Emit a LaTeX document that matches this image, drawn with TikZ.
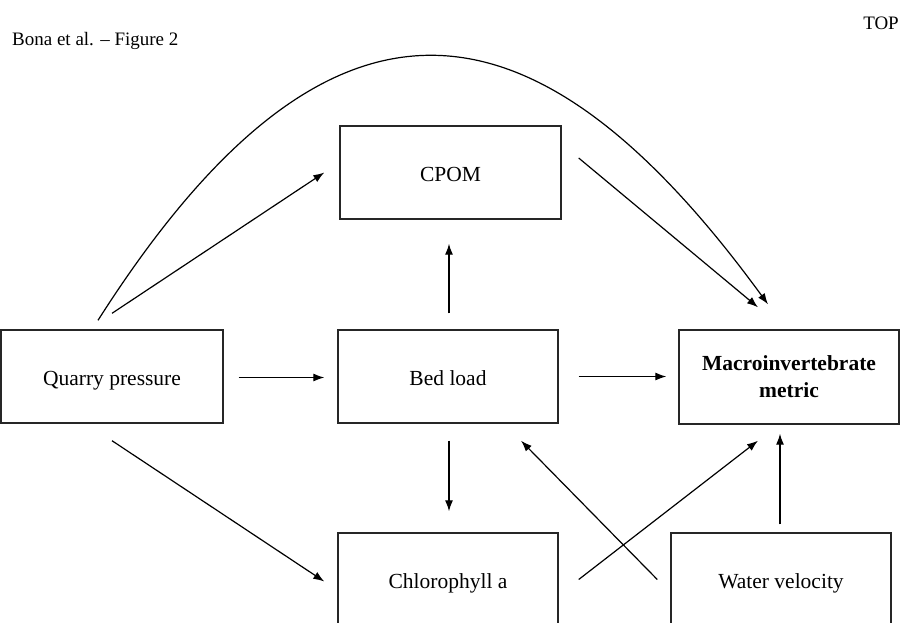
\documentclass[tikz,border=0pt]{standalone}
\usepackage{fontspec}
\setmainfont{Liberation Serif}
\usetikzlibrary{arrows.meta}
\begin{document}
\begin{tikzpicture}[x=1pt,y=-1pt,
  box/.style={draw=black!85, line width=1.4pt, rectangle, minimum width=221pt, minimum height=93pt, inner sep=0pt, font=\fontsize{21.5}{26}\selectfont, align=center},
  oneline/.style={text height=22pt, text depth=5pt},
  conn/.style={line width=1.2pt, -{Latex[length=11pt,width=8pt]}},
  lbl/.style={inner sep=0pt, font=\fontsize{19}{23}\selectfont}]
\clip (0,0) rectangle (902,622);
\fill[white] (0,0) rectangle (902,622);
\node[lbl, anchor=base west] (title) at (12,45) {Bona et al. -- Figure 2};
\node[lbl, anchor=base east] (top) at (899,29) {TOP};
\node[box, oneline] (c) at (450.5,172.5) {CPOM};
\node[box, oneline, minimum width=222pt] (q) at (112,376.5) {Quarry pressure};
\node[box, oneline, minimum width=220pt] (b) at (448,376.5) {Bed load};
\node[box, minimum width=220pt, minimum height=94pt] (m) at (789,377) {\textbf{Macroinvertebrate}\\[1pt]\textbf{metric}};
\node[box, oneline, minimum width=220pt] (ch) at (448,579.5) {Chlorophyll a};
\node[box, oneline, minimum width=220pt] (w) at (781,579.5) {Water velocity};
% arrows
\draw[conn] ([yshift=16pt]q.north) -- ([xshift=-15pt]c.west);
\draw[conn] ([shift={(-14pt,9pt)}]q.north) .. controls (330,-44) and (536,-14) .. ([shift={(-21pt,25pt)}]m.north);
\draw[conn] ([shift={(17pt,14.5pt)}]c.east) -- ([shift={(-31pt,22pt)}]m.north);
\draw[conn, shorten <=16pt, shorten >=24pt] ([xshift=1pt]b.north) -- ([xshift=1pt]b.north |- c.south);
\draw[conn, shorten <=15pt, shorten >=13pt] ([yshift=-1pt]q.east) -- ([yshift=-1pt]q.east -| b.west);
\draw[conn, shorten <=20pt, shorten >=12pt] (b.east) -- (b.east -| m.west);
\draw[conn, shorten <=17pt, shorten >=21pt] ([xshift=1pt]b.south) -- ([xshift=1pt]b.south |- ch.north);
\draw[conn] ([yshift=-17pt]q.south) -- ([shift={(-13pt,-2pt)}]ch.west);
\draw[conn] ([xshift=20pt]ch.east) -- ([shift={(-31pt,-16pt)}]m.south);
\draw[conn] ([xshift=-13pt]w.west) -- ([shift={(73pt,-17pt)}]b.south);
\draw[conn, shorten <=8pt, shorten >=9pt] ([xshift=-1pt]w.north) -- ([xshift=-1pt]w.north |- m.south);
\end{tikzpicture}
\end{document}
